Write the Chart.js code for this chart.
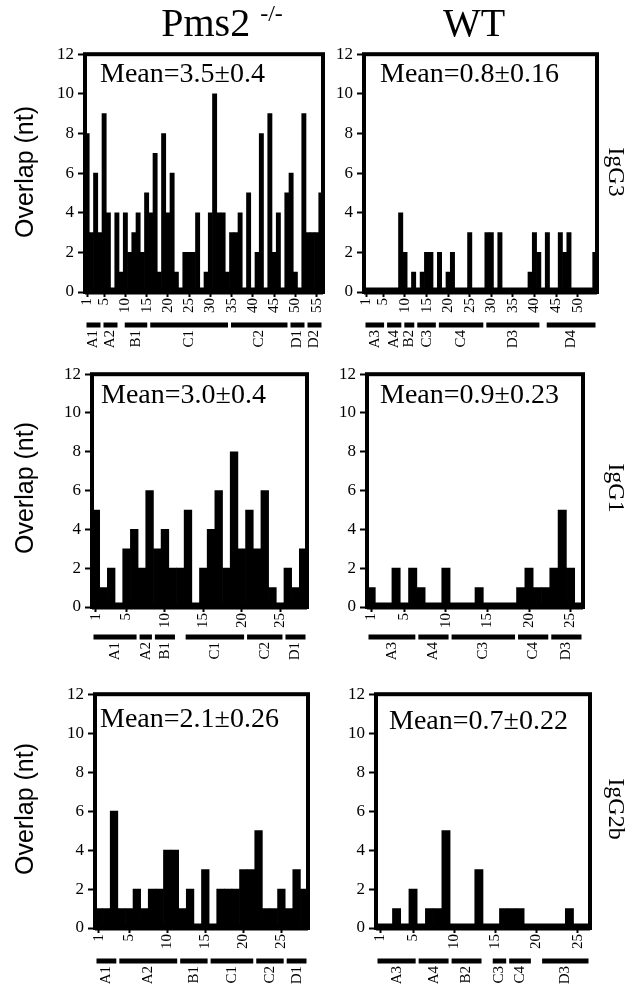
<!DOCTYPE html>
<html>
<head>
<meta charset="utf-8">
<script src="https://cdn.jsdelivr.net/npm/chart.js@4.4.1/dist/chart.umd.min.js"></script>
<style>
  body { margin: 0; background: #fff; width: 636px; height: 989px; position: relative; overflow: hidden; }
  canvas { position: absolute; }
  .t { position: absolute; white-space: nowrap; color: #000; transform-origin: center center; }
  .serif { font-family: "Liberation Serif", "Times New Roman", serif; }
  .sans { font-family: "Liberation Sans", Arial, sans-serif; }
</style>
</head>
<body>

<canvas id="pmsG3" width="340" height="320" style="left:0;top:40px"></canvas>
<canvas id="wtG3" width="306" height="320" style="left:330px;top:40px"></canvas>
<canvas id="pmsG1" width="340" height="320" style="left:0;top:360px"></canvas>
<canvas id="wtG1" width="306" height="320" style="left:330px;top:360px"></canvas>
<canvas id="pmsG2b" width="340" height="309" style="left:0;top:680px"></canvas>
<canvas id="wtG2b" width="306" height="309" style="left:330px;top:680px"></canvas>

<div class="t serif" style="left:222px;top:22px;font-size:40px;transform:translate(-50%,-50%)">Pms2 <sup style="font-size:24px">-/-</sup></div>
<div class="t serif" style="left:474px;top:22px;font-size:40px;transform:translate(-50%,-50%)">WT</div>

<div class="t sans" style="left:24px;top:172px;font-size:25px;transform:translate(-50%,-50%) rotate(-90deg)">Overlap (nt)</div>
<div class="t sans" style="left:24px;top:488px;font-size:25px;transform:translate(-50%,-50%) rotate(-90deg)">Overlap (nt)</div>
<div class="t sans" style="left:24px;top:809px;font-size:25px;transform:translate(-50%,-50%) rotate(-90deg)">Overlap (nt)</div>

<div class="t serif" style="left:616px;top:172px;font-size:24px;transform:translate(-50%,-50%) rotate(90deg)">IgG3</div>
<div class="t serif" style="left:616px;top:488px;font-size:24px;transform:translate(-50%,-50%) rotate(90deg)">IgG1</div>
<div class="t serif" style="left:616px;top:809px;font-size:24px;transform:translate(-50%,-50%) rotate(90deg)">IgG2b</div>

<script>
// ── overlap per junction (nt) ───────────────────────────────────────────────
var pmsG3Values = [8,3,6,3,9,4,0,4,1,4,2,3,4,2,5,4,7,1,8,4,6,1,0,2,2,2,4,0,1,4,10,4,4,1,3,3,4,0,5,0,2,8,0,9,2,4,0,5,6,1,0,9,3,3,3,5];
var wtG3Values  = [0,0,0,0,0,0,0,0,4,2,0,1,0,1,2,2,0,2,0,1,2,0,0,0,3,0,0,0,3,3,0,3,0,0,0,0,0,0,1,3,2,0,3,0,0,3,2,3,0,0,0,0,0,2];
var pmsG1Values = [5,1,2,0,3,4,2,6,3,4,2,2,5,0,2,4,6,2,8,3,5,3,6,1,0,2,1,3];
var wtG1Values  = [1,0,0,2,0,2,1,0,0,2,0,0,0,1,0,0,0,0,1,2,1,1,2,5,2,0];
var pmsG2bValues = [1,1,6,1,1,2,1,2,2,4,4,1,2,0,3,0,2,2,2,3,3,5,1,1,2,1,3,2];
var wtG2bValues  = [0,0,1,0,2,0,1,1,5,0,0,0,3,0,0,1,1,1,0,0,0,0,0,1,0,0];

// labelled x ticks
var ticks55 = [1,5,10,15,20,25,30,35,40,45,50,55];
var ticks50 = [1,5,10,15,20,25,30,35,40,45,50];
var ticks25 = [1,5,10,15,20,25];

// segment groups under each axis: [name, first junction, last junction]
var pmsG3Groups  = [['A1',1,4],['A2',5,8],['B1',10,15],['C1',16,34],['C2',35,48],['D1',49,52],['D2',53,56]];
var wtG3Groups   = [['A3',1,5],['A4',6,9],['B2',10,12],['C3',13,17],['C4',18,28],['D3',29,41],['D4',43,54]];
var pmsG1Groups  = [['A1',1,6],['A2',7,8],['B1',9,11],['C1',13,20],['C2',21,25],['D1',26,28]];
var wtG1Groups   = [['A3',1,6],['A4',7,10],['C3',11,18],['C4',19,22],['D3',23,26]];
var pmsG2bGroups = [['A1',1,3],['A2',4,11],['B1',12,15],['C1',16,21],['C2',22,25],['D1',26,28]];
var wtG2bGroups  = [['A3',1,5],['A4',6,9],['B2',10,13],['C3',15,16],['C4',17,19],['D3',21,26]];

var SERIF = '"Liberation Serif", "Times New Roman", serif';

// frame, zero band, mean label and group bars
var framePlugin = {
    id: 'frame',
    afterDraw: function (chart) {
        var ctx = chart.ctx, a = chart.chartArea, cfg = chart.options.plugins.frame;
        var x = chart.scales.x, y = chart.scales.y;
        ctx.save();
        ctx.fillStyle = '#000';
        ctx.strokeStyle = '#000';

        var y0 = y.getPixelForValue(0);
        ctx.fillRect(a.left, y0 - 4.5, a.right - a.left, 7);

        ctx.lineWidth = 4;
        ctx.strokeRect(a.left, a.top, a.right - a.left, a.bottom - a.top);

        ctx.font = '28px ' + SERIF;
        ctx.textAlign = 'left';
        ctx.textBaseline = 'alphabetic';
        ctx.fillText(cfg.mean, a.left + cfg.meanDx, a.top + cfg.meanDy);

        var half = (x.getPixelForValue(1) - x.getPixelForValue(0)) / 2;
        var segY = a.bottom + cfg.segOff;
        ctx.font = '15px ' + SERIF;
        cfg.groups.forEach(function (g) {
            var x1 = x.getPixelForValue(g[1] - 1) - half + 1.5;
            var x2 = x.getPixelForValue(g[2] - 1) + half - 1.5;
            ctx.fillRect(x1, segY - 2.5, x2 - x1, 5);
            ctx.save();
            ctx.translate((x1 + x2) / 2, segY + 5);
            ctx.rotate(-Math.PI / 2);
            ctx.textAlign = 'right';
            ctx.textBaseline = 'middle';
            ctx.fillText(g[0], 0, 0);
            ctx.restore();
        });
        ctx.restore();
    }
};

function panel(id, values, tickList, groups, mean, lay) {
    var labels = values.map(function (_, i) { return String(i + 1); });
    new Chart(document.getElementById(id), {
        type: 'bar',
        data: {
            labels: labels,
            datasets: [{
                data: values,
                backgroundColor: '#000',
                borderWidth: 0,
                barPercentage: 1,
                categoryPercentage: 1
            }]
        },
        options: {
            responsive: false,
            animation: false,
            layout: { padding: { left: 0, right: lay.padR, top: lay.padT, bottom: lay.padB } },
            plugins: {
                legend: { display: false },
                tooltip: { enabled: false },
                frame: { mean: mean, groups: groups, meanDx: lay.meanDx, meanDy: lay.meanDy, segOff: lay.segOff }
            },
            scales: {
                x: {
                    border: { display: false },
                    grid: {
                        drawOnChartArea: false,
                        offset: false,
                        tickLength: 5,
                        tickWidth: 2,
                        tickColor: function (c) {
                            return tickList.indexOf(c.index + 1) >= 0 ? '#000' : 'rgba(0,0,0,0)';
                        }
                    },
                    ticks: {
                        autoSkip: false,
                        minRotation: 90,
                        maxRotation: 90,
                        padding: 1,
                        color: '#000',
                        font: { family: SERIF, size: 15 },
                        callback: function (v, i) {
                            return tickList.indexOf(i + 1) >= 0 ? String(i + 1) : '';
                        }
                    },
                    afterFit: function (s) { s.height = 30; }
                },
                y: {
                    min: 0,
                    max: 12,
                    border: { display: false },
                    grid: { drawOnChartArea: false, tickLength: 7, tickWidth: 2, tickColor: '#000' },
                    ticks: { stepSize: 2, padding: 4, color: '#000', font: { family: SERIF, size: 17 } },
                    afterFit: function (s) { s.width = lay.yw; }
                }
            }
        },
        plugins: [framePlugin]
    });
}

panel('pmsG3',  pmsG3Values,  ticks55, pmsG3Groups,  'Mean=3.5\u00b10.4',  { yw: 85, padR: 15, padT: 13, padB: 38, meanDx: 15, meanDy: 28, segOff: 33 });
panel('wtG3',   wtG3Values,   ticks50, wtG3Groups,   'Mean=0.8\u00b10.16', { yw: 34, padR: 39, padT: 13, padB: 38, meanDx: 16, meanDy: 28, segOff: 33 });
panel('pmsG1',  pmsG1Values,  ticks25, pmsG1Groups,  'Mean=3.0\u00b10.4',  { yw: 92, padR: 33, padT: 8,  padB: 43, meanDx: 9,  meanDy: 29, segOff: 30 });
panel('wtG1',   wtG1Values,   ticks25, wtG1Groups,   'Mean=0.9\u00b10.23', { yw: 37, padR: 53, padT: 8,  padB: 43, meanDx: 13, meanDy: 29, segOff: 30 });
panel('pmsG2b', pmsG2bValues, ticks25, pmsG2bGroups, 'Mean=2.1\u00b10.26', { yw: 95, padR: 32, padT: 10, padB: 31, meanDx: 5,  meanDy: 33, segOff: 33 });
panel('wtG2b',  wtG2bValues,  ticks25, wtG2bGroups,  'Mean=0.7\u00b10.22', { yw: 46, padR: 46, padT: 9,  padB: 31, meanDx: 13, meanDy: 35, segOff: 33 });
</script>
</body>
</html>
